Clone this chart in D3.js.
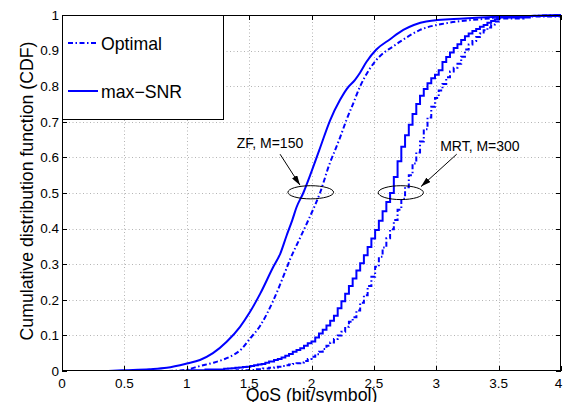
<!DOCTYPE html>
<html><head><meta charset="utf-8">
<script src="https://cdn.jsdelivr.net/npm/d3@7"></script>
<style>
body{margin:0;background:#fff}
svg{display:block}
text{font-family:"Liberation Sans",Arial,Helvetica,sans-serif;fill:#000}
</style>
</head><body>
<svg id="c" width="563" height="402"></svg>
<script>
// ---------- data ----------
const xTicks = [0, 0.5, 1, 1.5, 2, 2.5, 3, 3.5, 4];
const xTickLabels = ["0", "0.5", "1", "1.5", "2", "2.5", "3", "3.5", "4"];
const yTicks = [0, 0.1, 0.2, 0.3, 0.4, 0.5, 0.6, 0.7, 0.8, 0.9, 1];
const yTickLabels = ["0", "0.1", "0.2", "0.3", "0.4", "0.5", "0.6", "0.7", "0.8", "0.9", "1"];
const xLabel = "QoS (bit/symbol)";
const yLabel = "Cumulative distribution function (CDF)";
const legendNames = ["Optimal", "max\u2212SNR"];

// ZF, M=150 — max-SNR (solid)
const zfSnrX = [0.37, 0.5, 0.7, 0.84, 1.0, 1.106, 1.21, 1.32, 1.427, 1.5, 1.59, 1.69, 1.75, 1.80, 1.846, 1.88, 1.934, 2.0, 2.063, 2.15, 2.228, 2.282, 2.349, 2.389, 2.44, 2.52, 2.63, 2.736, 2.82, 2.92, 3.22, 3.5, 3.8, 4.0];
const zfSnrY = [0.0, 0.002, 0.005, 0.009, 0.021, 0.031, 0.05, 0.082, 0.124, 0.162, 0.218, 0.29, 0.33, 0.38, 0.424, 0.46, 0.5, 0.56, 0.621, 0.705, 0.761, 0.792, 0.818, 0.838, 0.868, 0.903, 0.932, 0.958, 0.972, 0.982, 0.99, 0.995, 0.998, 1.0];

// ZF, M=150 — Optimal (dash-dot)
const zfOptX = [0.85, 1.0, 1.106, 1.21, 1.30, 1.373, 1.44, 1.5, 1.59, 1.69, 1.77, 1.83, 1.91, 1.98, 2.068, 2.148, 2.19, 2.228, 2.28, 2.335, 2.389, 2.469, 2.55, 2.656, 2.71, 2.87, 3.08, 3.35, 3.63, 4.0];
const zfOptY = [0.0, 0.004, 0.014, 0.023, 0.033, 0.045, 0.062, 0.088, 0.128, 0.195, 0.262, 0.315, 0.375, 0.428, 0.5, 0.585, 0.621, 0.655, 0.705, 0.752, 0.799, 0.85, 0.885, 0.912, 0.925, 0.958, 0.977, 0.988, 0.995, 1.0];

// MRT, M=300 — max-SNR (solid, staircase)
const mrtSnrX = [0.9, 1.0, 1.15, 1.3, 1.33, 1.36, 1.39, 1.42, 1.45, 1.48, 1.51, 1.54, 1.57, 1.60, 1.63, 1.66, 1.70, 1.73, 1.76, 1.79, 1.82, 1.85, 1.88, 1.91, 1.94, 1.97, 2.00, 2.03, 2.06, 2.09, 2.12, 2.15, 2.18, 2.21, 2.24, 2.27, 2.30, 2.33, 2.36, 2.39, 2.42, 2.45, 2.48, 2.51, 2.54, 2.57, 2.60, 2.63, 2.66, 2.69, 2.72, 2.75, 2.78, 2.81, 2.84, 2.87, 2.90, 2.93, 2.96, 2.99, 3.02, 3.05, 3.08, 3.11, 3.14, 3.17, 3.20, 3.23, 3.26, 3.29, 3.32, 3.35, 3.38, 3.41, 3.44, 3.47, 3.50, 3.75, 4.0];
const mrtSnrY = [0.0, 0.002, 0.004, 0.006, 0.007, 0.008, 0.009, 0.010, 0.011, 0.012, 0.014, 0.016, 0.018, 0.020, 0.023, 0.027, 0.031, 0.034, 0.038, 0.043, 0.048, 0.054, 0.059, 0.064, 0.071, 0.078, 0.083, 0.094, 0.105, 0.116, 0.128, 0.141, 0.155, 0.176, 0.196, 0.217, 0.239, 0.260, 0.282, 0.303, 0.325, 0.348, 0.372, 0.396, 0.422, 0.449, 0.475, 0.500, 0.545, 0.589, 0.630, 0.662, 0.692, 0.722, 0.750, 0.773, 0.792, 0.808, 0.822, 0.832, 0.845, 0.868, 0.882, 0.895, 0.907, 0.918, 0.930, 0.940, 0.948, 0.955, 0.961, 0.967, 0.972, 0.978, 0.983, 0.988, 0.993, 0.997, 1.0];

// MRT, M=300 — Optimal (dash-dot, staircase)
const mrtOptX = [1.2, 1.4, 1.5, 1.55, 1.61, 1.66, 1.70, 1.73, 1.76, 1.79, 1.82, 1.85, 1.88, 1.91, 1.94, 1.97, 2.00, 2.03, 2.06, 2.09, 2.12, 2.15, 2.18, 2.21, 2.24, 2.27, 2.30, 2.33, 2.36, 2.39, 2.42, 2.45, 2.48, 2.51, 2.54, 2.57, 2.60, 2.63, 2.66, 2.69, 2.72, 2.75, 2.78, 2.81, 2.84, 2.87, 2.90, 2.93, 2.96, 2.99, 3.02, 3.05, 3.08, 3.11, 3.14, 3.17, 3.20, 3.23, 3.26, 3.29, 3.32, 3.35, 3.38, 3.41, 3.44, 3.47, 3.50, 3.7, 4.0];
const mrtOptY = [0.0, 0.002, 0.003, 0.005, 0.007, 0.009, 0.010, 0.012, 0.014, 0.016, 0.018, 0.020, 0.022, 0.024, 0.028, 0.034, 0.040, 0.047, 0.054, 0.062, 0.071, 0.080, 0.090, 0.100, 0.110, 0.124, 0.138, 0.151, 0.170, 0.192, 0.213, 0.239, 0.265, 0.293, 0.321, 0.347, 0.373, 0.398, 0.424, 0.453, 0.484, 0.516, 0.550, 0.583, 0.614, 0.645, 0.679, 0.712, 0.742, 0.767, 0.788, 0.806, 0.825, 0.841, 0.852, 0.863, 0.883, 0.903, 0.917, 0.927, 0.938, 0.948, 0.957, 0.965, 0.973, 0.982, 0.990, 0.996, 1.0];

// annotations (data coordinates)
const annLabels = ["ZF, M=150", "MRT, M=300"];
const annEllipseCx = [1.994, 2.716];
const annEllipseCy = [0.502, 0.501];
const annEllipseRx = [0.183, 0.181];
const annEllipseRy = [0.0185, 0.0195];
const annArrowFromX = [1.748, 3.164];
const annArrowFromY = [0.609, 0.609];
const annArrowToX = [1.908, 2.878];
const annArrowToY = [0.522, 0.518];
const annTextX = [1.667, 3.35];
const annTextY = [0.626, 0.619];

// ---------- drawing ----------
const svg = d3.select("#c");
const L = 62, R = 561, T = 15, B = 371;
const x = d3.scaleLinear().domain([0, 4]).range([L, R]);
const y = d3.scaleLinear().domain([0, 1]).range([B, T]);
const blue = "#0000ff";

svg.append("rect").attr("width", 563).attr("height", 402).attr("fill", "#fff");

// grid
const grid = svg.append("g").attr("stroke", "#b4b4b4").attr("stroke-width", 1).attr("stroke-dasharray", "1,2.5");
xTicks.slice(1, -1).forEach(v => grid.append("line")
  .attr("x1", Math.round(x(v)) + 0.5).attr("x2", Math.round(x(v)) + 0.5).attr("y1", T).attr("y2", B));
yTicks.slice(1, -1).forEach(v => grid.append("line")
  .attr("y1", Math.round(y(v)) + 0.5).attr("y2", Math.round(y(v)) + 0.5).attr("x1", L).attr("x2", R));

// clip + arrow marker
const defs = svg.append("defs");
defs.append("clipPath").attr("id", "clip")
  .append("rect").attr("x", L).attr("y", T - 1).attr("width", R - L).attr("height", B - T + 1);
defs.append("marker").attr("id", "arr").attr("viewBox", "0 0 10 6")
  .attr("refX", 10).attr("refY", 3).attr("markerWidth", 10).attr("markerHeight", 6)
  .attr("markerUnits", "userSpaceOnUse").attr("orient", "auto")
  .append("path").attr("d", "M0,0L10,3L0,6Z").attr("fill", "#000");

const plot = svg.append("g").attr("clip-path", "url(#clip)");
function pts(xs, ys) { return xs.map((v, i) => [v, ys[i]]); }
const lineLin = d3.line().x(d => x(d[0])).y(d => y(d[1])).curve(d3.curveMonotoneX);
const lineStep = d3.line().x(d => x(d[0])).y(d => y(d[1])).curve(d3.curveStepAfter);
const dashDot = "5,2.5,1.5,2.5";

plot.append("path").attr("d", lineLin(pts(zfOptX, zfOptY)))
  .attr("fill", "none").attr("stroke", blue).attr("stroke-width", 2).attr("stroke-dasharray", dashDot);
plot.append("path").attr("d", lineStep(pts(mrtOptX, mrtOptY)))
  .attr("fill", "none").attr("stroke", blue).attr("stroke-width", 2).attr("stroke-dasharray", dashDot);
plot.append("path").attr("d", lineLin(pts(zfSnrX, zfSnrY)))
  .attr("fill", "none").attr("stroke", blue).attr("stroke-width", 2);
plot.append("path").attr("d", lineStep(pts(mrtSnrX, mrtSnrY)))
  .attr("fill", "none").attr("stroke", blue).attr("stroke-width", 2);

// annotations
annLabels.forEach((lab, i) => {
  svg.append("ellipse").attr("cx", x(annEllipseCx[i])).attr("cy", y(annEllipseCy[i]))
    .attr("rx", x(annEllipseRx[i]) - x(0)).attr("ry", y(0) - y(annEllipseRy[i]))
    .attr("fill", "none").attr("stroke", "#000").attr("stroke-width", 1);
  svg.append("line").attr("x1", x(annArrowFromX[i])).attr("y1", y(annArrowFromY[i]))
    .attr("x2", x(annArrowToX[i])).attr("y2", y(annArrowToY[i]))
    .attr("stroke", "#000").attr("stroke-width", 1).attr("marker-end", "url(#arr)");
  svg.append("text").attr("x", x(annTextX[i])).attr("y", y(annTextY[i]))
    .attr("text-anchor", "middle").attr("font-size", "14px").text(lab);
});

// frame
svg.append("rect").attr("x", L + 0.5).attr("y", T + 0.5).attr("width", R - L - 1).attr("height", B - T - 1)
  .attr("fill", "none").attr("stroke", "#000").attr("stroke-width", 1);

// ticks (inward, all sides)
const tk = svg.append("g").attr("stroke", "#000").attr("stroke-width", 1);
xTicks.forEach(v => {
  const px = Math.round(x(v)) + 0.5;
  tk.append("line").attr("x1", px).attr("x2", px).attr("y1", B).attr("y2", B - 5);
  tk.append("line").attr("x1", px).attr("x2", px).attr("y1", T).attr("y2", T + 5);
});
yTicks.forEach(v => {
  const py = Math.round(y(v)) + 0.5;
  tk.append("line").attr("x1", L).attr("x2", L + 5).attr("y1", py).attr("y2", py);
  tk.append("line").attr("x1", R).attr("x2", R - 5).attr("y1", py).attr("y2", py);
});

// tick labels
xTicks.forEach((v, i) => svg.append("text").attr("x", Math.min(x(v), 558.5)).attr("y", B + 16.5)
  .attr("text-anchor", "middle").attr("font-size", "13.5px").text(xTickLabels[i]));
yTicks.forEach((v, i) => svg.append("text").attr("x", L - 3).attr("y", y(v) + 4.8)
  .attr("text-anchor", "end").attr("font-size", "13.5px").text(yTickLabels[i]));

// axis labels
svg.append("text").attr("x", (L + R) / 2).attr("y", 401).attr("text-anchor", "middle")
  .attr("font-size", "17.7px").text(xLabel);
svg.append("text").attr("transform", `translate(33,${(T + B) / 2 - 2}) rotate(-90)`)
  .attr("text-anchor", "middle").attr("font-size", "17.7px").text(yLabel);

// legend
const lg = svg.append("g");
lg.append("rect").attr("x", L + 0.5).attr("y", T + 0.5).attr("width", 161).attr("height", 104)
  .attr("fill", "#fff").attr("stroke", "#000").attr("stroke-width", 1);
const legY = [43, 91];
const legDash = [dashDot, null];
legendNames.forEach((n, i) => {
  const ln = lg.append("line").attr("x1", 68).attr("x2", 98).attr("y1", legY[i]).attr("y2", legY[i])
    .attr("stroke", blue).attr("stroke-width", 2);
  if (legDash[i]) ln.attr("stroke-dasharray", legDash[i]);
  lg.append("text").attr("x", 101).attr("y", legY[i] + 6.5).attr("font-size", "17.7px").text(n);
});
</script>
</body></html>
